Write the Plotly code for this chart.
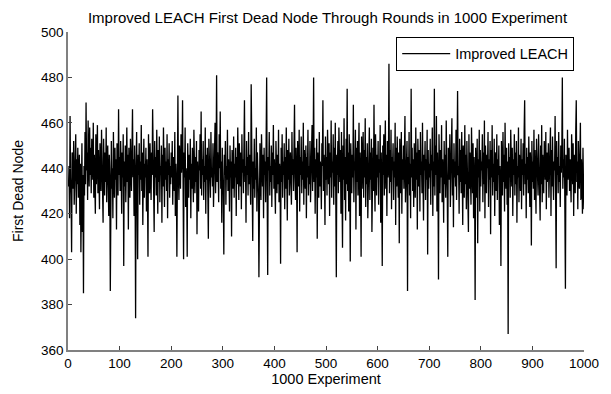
import plotly.graph_objects as go

title_text = "Improved LEACH First Dead Node Through Rounds in 1000 Experiment"
x_label = "1000 Experiment"
y_label = "First Dead Node"
series_name = "Improved LEACH"

first_dead_node = [
    432, 441, 418, 463, 436, 428, 403, 447, 445, 431,
    452, 424, 440, 437, 455, 420, 444, 433, 449, 427,
    438, 446, 415, 442, 403, 430, 451, 412, 437, 385,
    441, 428, 456, 433, 469, 439, 447, 426, 461, 444,
    432, 458, 437, 449, 429, 453, 440, 435, 460, 427,
    446, 438, 420, 455, 433, 443, 459, 429, 448, 436,
    422, 451, 441, 430, 457, 437, 445, 416, 453, 439,
    428, 447, 434, 458, 425, 442, 450, 433, 419, 446,
    437, 386, 443, 452, 431, 440, 418, 456, 438, 427,
    449, 435, 444, 413, 451, 439, 428, 466, 437, 445,
    430, 452, 441, 420, 447, 436, 455, 397, 443, 432,
    450, 425, 439, 458, 434, 446, 413, 449, 438, 427,
    453, 441, 430, 457, 466, 436, 444, 419, 450, 433,
    374, 440, 456, 428, 400, 446, 437, 451, 424, 443,
    435, 459, 430, 447, 415, 438, 453, 427, 442, 436,
    449, 421, 444, 432, 401, 455, 438, 429, 451, 440,
    426, 447, 437, 466, 431, 443, 412, 452, 436, 445,
    428, 457, 439, 420, 448, 434, 454, 425, 441, 437,
    450, 416, 446, 432, 458, 438, 423, 449, 435, 443,
    430, 455, 418, 444, 437, 451, 427, 441, 433, 447,
    436, 452, 424, 445, 439, 430, 456, 419, 442, 434,
    401, 448, 472, 437, 426, 450, 441, 431, 455, 438,
    444, 470, 429, 400, 447, 436, 458, 423, 440, 433,
    401, 451, 438, 427, 446, 435, 453, 418, 442, 431,
    449, 437, 425, 457, 440, 429, 445, 434, 452, 411,
    443, 436, 421, 448, 439, 455, 431, 465, 428, 444,
    437, 452, 426, 441, 434, 458, 420, 446, 435, 449,
    430, 409, 453, 438, 444, 427, 456, 436, 440, 432,
    451, 423, 445, 437, 460, 429, 442, 481, 434, 447,
    438, 425, 455, 440, 465, 431, 443, 416, 449, 436,
    428, 402, 446, 437, 452, 424, 441, 435, 457, 430,
    444, 438, 421, 450, 436, 443, 410, 448, 439, 431,
    454, 427, 442, 436, 449, 419, 445, 433, 458, 437,
    426, 451, 440, 432, 447, 422, 455, 438, 444, 429,
    450, 470, 434, 441, 416, 452, 437, 445, 428, 456,
    433, 446, 439, 424, 477, 436, 448, 408, 443, 431,
    453, 427, 440, 435, 458, 421, 447, 438, 429, 392,
    444, 451, 436, 426, 455, 440, 432, 446, 418, 449,
    437, 443, 425, 452, 480, 430, 393, 445, 439, 456,
    428, 441, 434, 450, 423, 447, 437, 459, 431, 444,
    436, 420, 452, 440, 429, 446, 433, 457, 425, 442,
    438, 398, 449, 434, 455, 427, 443, 437, 451, 422,
    445, 431, 458, 439, 417, 448, 435, 453, 428, 441,
    447, 433, 424, 456, 437, 444, 430, 451, 468, 436,
    426, 449, 438, 403, 452, 440, 432, 457, 421, 445,
    437, 454, 429, 443, 435, 460, 424, 448, 439, 431,
    450, 418, 445, 436, 457, 428, 441, 433, 452, 425,
    446, 438, 459, 430, 442, 480, 434, 449, 420, 444,
    436, 453, 409, 447, 439, 427, 456, 432, 443, 437,
    422, 451, 441, 470, 430, 446, 438, 415, 454, 435,
    445, 428, 457, 440, 433, 451, 419, 447, 436, 461,
    427, 443, 438, 455, 424, 449, 432, 460, 414, 392,
    446, 437, 452, 429, 458, 441, 434, 448, 420, 456,
    439, 405, 450, 435, 462, 426, 445, 417, 453, 433,
    475, 430, 447, 421, 455, 438, 399, 451, 442, 429,
    446, 436, 468, 425, 443, 439, 457, 413, 449, 434,
    452, 428, 444, 460, 419, 447, 437, 401, 454, 431,
    441, 456, 427, 448, 436, 462, 423, 445, 433, 451,
    418, 443, 438, 458, 426, 447, 435, 453, 412, 440,
    449, 430, 468, 437, 421, 455, 442, 428, 446, 436,
    452, 424, 444, 438, 459, 416, 447, 433, 397, 450,
    437, 455, 428, 443, 461, 431, 446, 419, 452, 436,
    440, 486, 429, 448, 434, 457, 422, 445, 439, 451,
    426, 443, 436, 460, 415, 449, 432, 454, 441, 427,
    447, 407, 453, 438, 429, 456, 420, 444, 435, 450,
    431, 446, 463, 425, 441, 437, 452, 386, 445, 433,
    456, 428, 442, 418, 475, 436, 449, 430, 444, 423,
    451, 438, 427, 458, 435, 447, 413, 453, 440, 432,
    448, 421, 456, 437, 443, 429, 460, 434, 417, 446,
    439, 452, 426, 444, 435, 457, 402, 448, 431, 442,
    436, 453, 424, 446, 439, 458, 419, 443, 432, 475,
    428, 450, 437, 463, 421, 447, 434, 391, 455, 440,
    429, 448, 436, 459, 425, 444, 438, 416, 452, 433,
    446, 427, 461, 439, 430, 401, 449, 441, 435, 455,
    423, 447, 438, 462, 428, 444, 414, 451, 436, 443,
    432, 457, 426, 445, 474, 437, 441, 420, 453, 434,
    448, 429, 456, 438, 415, 450, 440, 427, 459, 433,
    446, 422, 452, 437, 443, 412, 455, 431, 447, 436,
    424, 458, 440, 429, 451, 418, 445, 435, 382, 449,
    438, 427, 453, 407, 444, 436, 457, 421, 448, 432,
    443, 439, 455, 425, 447, 433, 461, 418, 450, 437,
    429, 446, 440, 456, 423, 444, 435, 452, 411, 448,
    436, 459, 428, 442, 434, 453, 419, 447, 438, 430,
    455, 426, 444, 437, 450, 415, 441, 433, 397, 452,
    439, 428, 456, 434, 446, 421, 460, 440, 431, 449,
    424, 443, 367, 451, 436, 445, 427, 457, 438, 432,
    449, 419, 444, 437, 455, 428, 447, 433, 452, 416,
    441, 436, 458, 425, 446, 439, 430, 453, 422, 444,
    437, 451, 428, 456, 470, 433, 442, 418, 449, 435,
    445, 429, 454, 438, 423, 447, 440, 406, 452, 434,
    443, 431, 457, 426, 448, 437, 420, 453, 439, 445,
    428, 455, 436, 442, 417, 450, 433, 459, 425, 446,
    438, 429, 452, 441, 435, 456, 422, 447, 434, 440,
    451, 427, 444, 437, 458, 419, 448, 432, 454, 436,
    426, 443, 439, 463, 430, 396, 452, 437, 445, 429,
    456, 434, 441, 423, 450, 438, 447, 480, 431, 444,
    436, 453, 420, 387, 446, 439, 428, 457, 435, 442,
    449, 430, 444, 437, 425, 455, 440, 433, 451, 419,
    446, 438, 429, 456, 470, 434, 443, 422, 452, 440,
    431, 447, 460, 426, 444, 437, 420, 449, 433, 422,
]
experiment = list(range(1, len(first_dead_node) + 1))

x_ticks = [0, 100, 200, 300, 400, 500, 600, 700, 800, 900, 1000]
y_ticks = [360, 380, 400, 420, 440, 460, 480, 500]

FONT = "Liberation Sans, Arial, sans-serif"

fig = go.Figure()
fig.add_trace(go.Scatter(
    x=experiment, y=first_dead_node, mode="lines", name=series_name,
    line=dict(color="black", width=1.3), showlegend=True,
))

fig.update_layout(
    width=611, height=394,
    margin=dict(l=68, r=24, t=32, b=36),
    paper_bgcolor="white", plot_bgcolor="white",
    font=dict(family=FONT, size=13.5, color="black"),
    title=dict(text=title_text, x=0.536, xanchor="center",
               y=1 - 18 / 394, yanchor="middle", yref="container",
               font=dict(family=FONT, size=15, color="black")),
    legend=dict(x=0.981, xanchor="right", y=0.985, yanchor="top",
                bordercolor="black", borderwidth=1, bgcolor="white",
                font=dict(family=FONT, size=14.5, color="black"),
                itemwidth=48, tracegroupgap=0),
    showlegend=True,
)
fig.update_xaxes(
    range=[0, 1000], tickvals=x_ticks, ticktext=[str(v) for v in x_ticks],
    ticks="inside", ticklen=4, tickcolor="#444", showgrid=False, zeroline=False,
    showline=True, linecolor="#808080", linewidth=1.5,
    title=dict(text=x_label, standoff=1, font=dict(family=FONT, size=14.5)),
    tickfont=dict(family=FONT, size=13.5),
)
fig.update_yaxes(
    range=[360, 500], tickvals=y_ticks, ticktext=[str(v) for v in y_ticks],
    ticks="inside", ticklen=4, tickcolor="#444", showgrid=False, zeroline=False,
    showline=True, linecolor="#808080", linewidth=1.5,
    title=dict(text=y_label, standoff=14, font=dict(family=FONT, size=14)),
    tickfont=dict(family=FONT, size=13.5),
)

fig.write_html("out.html")
